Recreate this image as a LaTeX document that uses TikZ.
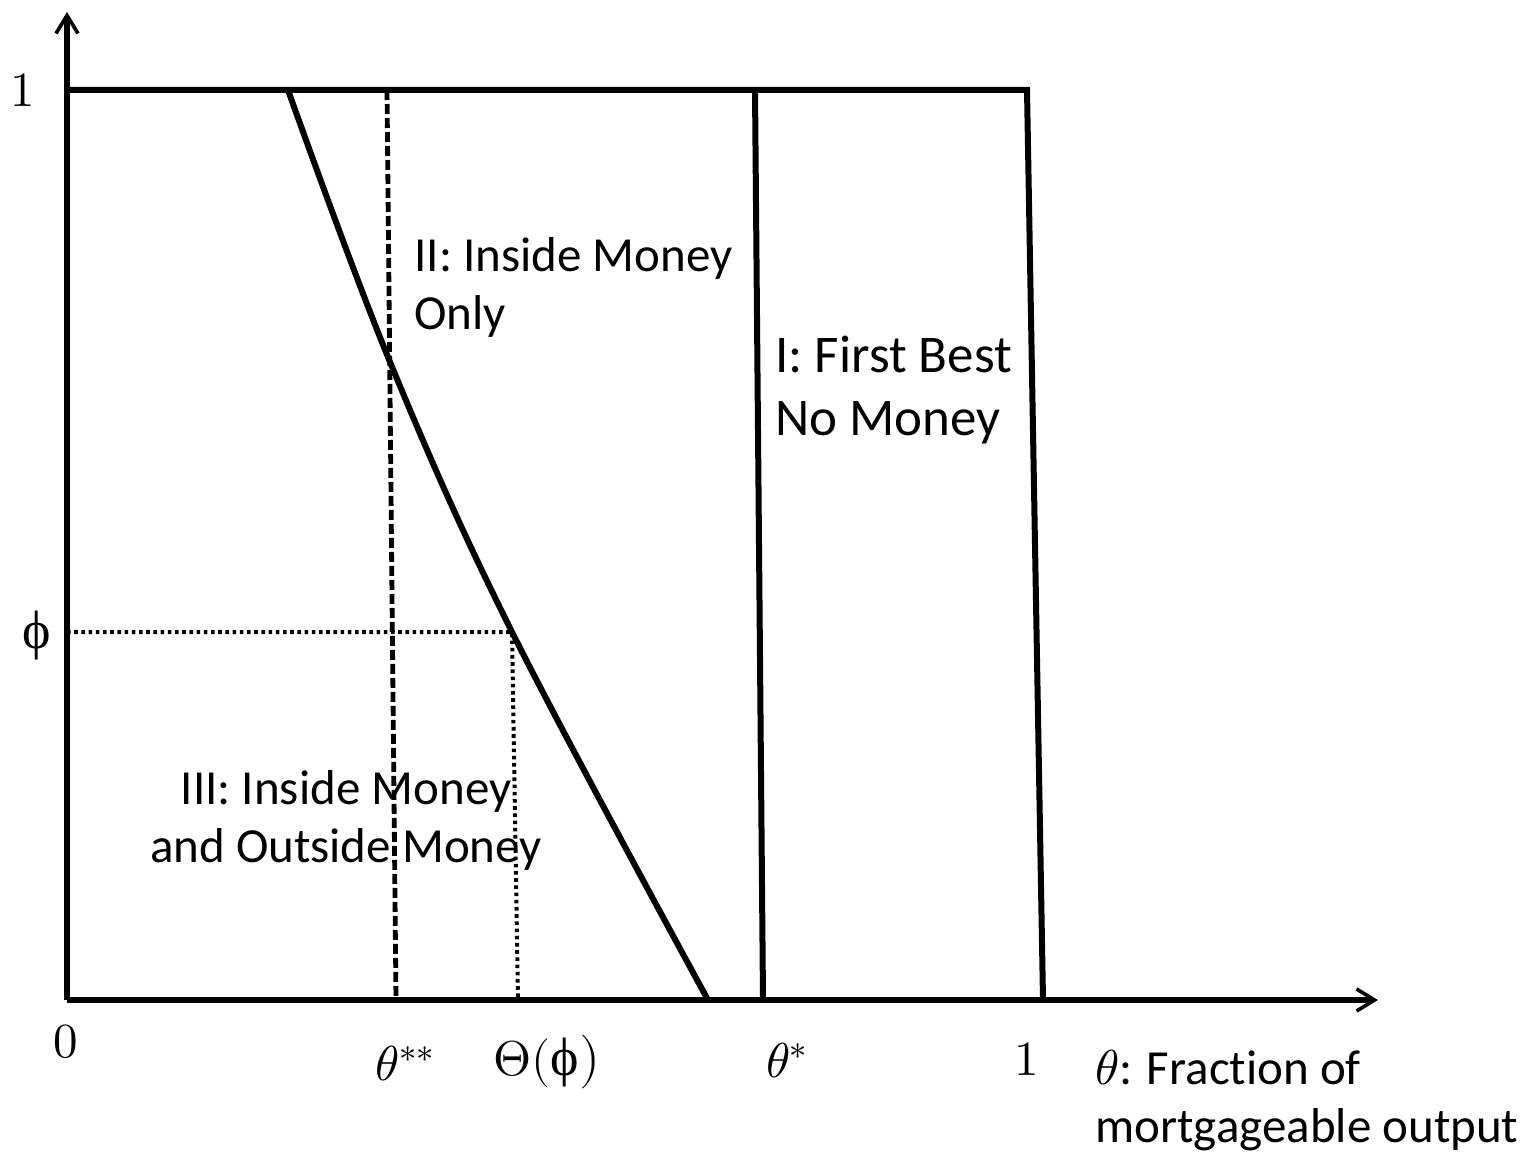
\documentclass[tikz,border=0pt]{standalone}
\usepackage{fontspec}
\usepackage{unicode-math}
\setmainfont{Carlito}[Ligatures=NoCommon]
\setmathfont{Latin Modern Math}
\newfontfamily\phifont{Liberation Serif}
\usetikzlibrary{arrows.meta}

\begin{document}
\begin{tikzpicture}[
  x=0.5pt,y=-0.5pt,
  every node/.style={inner sep=0pt,font=\fontsize{24.5}{29}\selectfont},
  thickline/.style={line width=3pt,line join=miter},
  axisline/.style={line width=3pt,-{Straight Barb[length=9pt,width=11pt,line width=1.8pt]}},
  dashline/.style={line width=2.4pt,dash pattern=on 5pt off 2pt},
  dotline/.style={line width=2pt,dash pattern=on 1.8pt off 1.8pt},
  region/.style={align=left}
]
\useasboundingbox (0,0) rectangle (1524,1156);

% axes
\coordinate (O) at (67,1000);
\coordinate (ytop) at (67,12);
\coordinate (xend) at (1378,1000);
\draw[axisline] (O) -- (ytop);
\draw[axisline] (O) -- (xend);

% box and boundaries
\coordinate (tl) at (67,90);
\coordinate (tr) at (1027,90);
\coordinate (br) at (1043,1000);
\coordinate (s1) at (755,90);
\coordinate (s2) at (763,1000);
\draw[thickline] (tl) -- (tr) -- (br);
\draw[thickline] (s1) -- (s2);

% curve Theta
\coordinate (c1) at (288,90);
\coordinate (c2) at (390,362);
\coordinate (c3) at (512,632);
\coordinate (c4) at (708,1000);
\draw[thickline] plot[smooth,tension=0.6] coordinates {(c1) (c2) (c3) (c4)};

% guides
\coordinate (d1) at (387,90);
\coordinate (d2) at (396,1000);
\draw[dashline] (d1) -- (d2);
\coordinate (p0) at (67,632);
\coordinate (p1) at (518,1000);
\draw[dotline] (p0) -- (c3) -- (p1);

% tick labels
\node (one y) at (23,90) {$1$};
\node (phi) at (37,636) {\phifont\fontsize{27}{29}\selectfont ϕ};
\node (zero) at (66,1042) {$0$};
\node (tss) at (405,1063) {$\theta^{**}$};
\node (Tphi) at (547,1062) {$\Theta($\phifont\fontsize{27}{29}\selectfont ϕ$)$};
\node (ts) at (787,1060) {$\theta^{*}$};
\node (one x) at (1027,1059) {$1$};
\node[align=left,anchor=north west] (xlab) at (1095,1050) {$\theta$: Fraction of\\mortgageable output};

% regions
\node[region,anchor=west] (r2) at (414,287) {II: Inside Money\\Only};
\node[region,anchor=west,font=\fontsize{26.5}{31.5}\selectfont] (r1) at (775,390) {I: First Best\\No Money};
\node[align=center] (r3) at (346,820) {III: Inside Money\\and Outside Money};
\end{tikzpicture}
\end{document}
